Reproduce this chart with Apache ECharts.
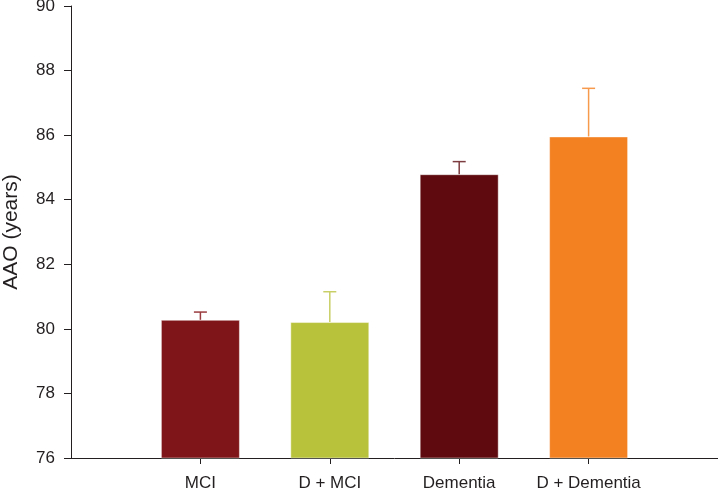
<!DOCTYPE html>
<html>
<head>
<meta charset="utf-8">
<script src="https://cdn.jsdelivr.net/npm/echarts@6/dist/echarts.min.js"></script>
<style>html,body{margin:0;padding:0;background:#fff}#c{width:718px;height:490px}</style>
</head>
<body>
<div id="c"></div>
<script>
const categories = ['', 'MCI', 'D + MCI', 'Dementia', 'D + Dementia', ''];
const means = [null, 80.28, 80.21, 84.79, 85.96, null];
const errUpper = [null, 80.52, 81.15, 85.18, 87.45, null];
const barColors = [null, '#7f1518', '#b8c23a', '#5e0a0e', '#f38121'];
const errColors = [null, '#9a3b3f', '#c8cf66', '#7d3c3f', '#f79a4c'];
const yMin = 76, yMax = 90, yStep = 2;
const yName = 'AAO (years)';

const chart = echarts.init(document.getElementById('c'));
const font = 'Liberation Sans, Arial, Helvetica, sans-serif';
const barData = means.map((v, i) => v == null ? '-' : {
  value: v,
  itemStyle: { color: barColors[i], borderColor: 'rgba(255,255,255,0.45)', borderWidth: 1 }
});
const errData = [];
means.forEach((v, i) => { if (v != null) errData.push([i, v, errUpper[i]]); });

chart.setOption({
  animation: false,
  grid: { left: 71, right: 0, top: 6, bottom: 32, containLabel: false, outerBoundsMode: 'none' },
  xAxis: {
    type: 'category',
    data: categories,
    boundaryGap: false,
    axisLine: { lineStyle: { color: '#231f20', width: 1 } },
    axisTick: { length: 6, interval: (i) => i >= 1 && i <= 4, lineStyle: { color: '#231f20' } },
    axisLabel: { color: '#231f20', fontSize: 17, fontFamily: font, margin: 17, interval: 0 },
    splitLine: { show: false }
  },
  yAxis: {
    type: 'value',
    min: yMin, max: yMax, interval: yStep,
    name: yName,
    nameLocation: 'middle',
    nameGap: 49,
    nameTextStyle: { color: '#231f20', fontSize: 21, fontFamily: font },
    axisLine: { show: true, lineStyle: { color: '#231f20', width: 1 } },
    axisTick: { show: true, length: 7, lineStyle: { color: '#231f20' } },
    axisLabel: { color: '#231f20', fontSize: 17, fontFamily: font, margin: 16 },
    splitLine: { show: false }
  },
  series: [
    { type: 'bar', data: barData, barWidth: 79, z: 2 },
    {
      type: 'custom', z: 3,
      data: errData,
      encode: { x: 0, y: [1, 2] },
      renderItem: function (params, api) {
        const i = api.value(0);
        const p1 = api.coord([i, api.value(1)]);
        const p2 = api.coord([i, api.value(2)]);
        const c = errColors[i];
        const hw = 6.5;
        return {
          type: 'group',
          children: [
            { type: 'line', shape: { x1: p1[0], y1: p1[1], x2: p2[0], y2: p2[1] }, style: { stroke: c, lineWidth: 1.5 } },
            { type: 'line', shape: { x1: p2[0] - hw, y1: p2[1], x2: p2[0] + hw, y2: p2[1] }, style: { stroke: c, lineWidth: 1.5 } }
          ]
        };
      }
    }
  ]
});
</script>
</body>
</html>
